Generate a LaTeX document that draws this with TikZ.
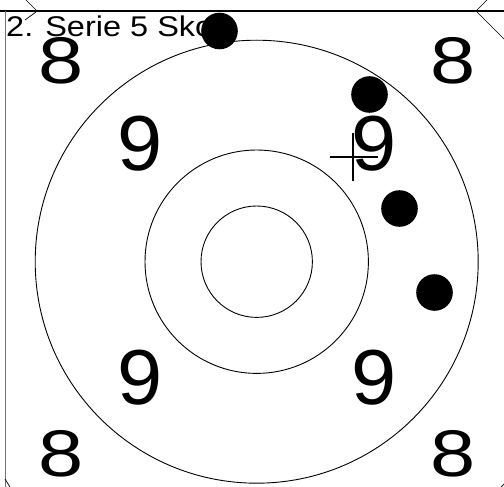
\documentclass[tikz,border=0pt]{standalone}
\usepackage{fontspec}
\setmainfont{Liberation Sans}
\usetikzlibrary{positioning}
\newcommand{\drawshot}[2]{% {x}{y}
  \fill[black] (#1,#2) circle (18.3);
}
\tikzset{
  ring/.style={black,line width=0.9pt},
  cornerline/.style={black,line width=0.7pt},
  eightnum/.style={inner sep=0pt,font=\fontsize{66}{66}\selectfont},
  ninenum/.style={inner sep=0pt,font=\fontsize{78}{78}\selectfont},
  titletext/.style={inner sep=0pt,anchor=base west,font=\fontsize{28.5}{28.5}\selectfont},
}

\begin{document}
\begin{tikzpicture}[x=1pt,y=-1pt]
  % Page area
  \useasboundingbox (0,0) rectangle (504,487);
  % Frame lines
  \draw[line width=1.4pt] (0,11) -- (504,11);
  \draw[black!55,line width=0.8pt] (5,11) -- (5,487);
  % Corner marks
  \draw[cornerline] (26,0) -- (37,11) (36,12) -- (25,20);
  \draw[cornerline] (487,0) -- (476,11) (477,12) -- (504,39);
  \draw[cornerline] (5,479) -- (10,487);
  \draw[cornerline] (504,484) -- (501,487);
  % Rings
  \coordinate (centre) at (256.7,261.7);
  \draw[ring] (centre) circle (221.5);
  \draw[ring] (centre) circle (111.7);
  \draw[ring] (centre) circle (55.7);
  % Ring numbers
  \node[eightnum] (eightnw) at (61,61) {\scalebox{1.23}[1]{8}};
  \node[eightnum] (eightne) at (453,61) {\scalebox{1.23}[1]{8}};
  \node[eightnum] (eightsw) at (61,454) {\scalebox{1.23}[1]{8}};
  \node[eightnum] (eightse) at (453,454) {\scalebox{1.23}[1]{8}};
  \node[ninenum] (ninenw) at (140,143.5) {\scalebox{1.04}[1]{9}};
  \node[ninenum] (ninene) at (374,143.5) {\scalebox{1.04}[1]{9}};
  \node[ninenum] (ninesw) at (140,378) {\scalebox{1.04}[1]{9}};
  \node[ninenum] (ninese) at (374,378) {\scalebox{1.04}[1]{9}};
  % Series title
  \node[titletext] (title) at (6,37) {\scalebox{1.14}[1]{2. Serie 5 Sko}};
  % Aim point
  \draw[line width=1.8pt] (329.5,157) -- (377.5,157) (353,133) -- (353,181);
  % Shots
  \drawshot{219.5}{31}
  \drawshot{369.5}{94.5}
  \drawshot{399.5}{208.5}
  \drawshot{434.5}{292.5}
\end{tikzpicture}
\end{document}
